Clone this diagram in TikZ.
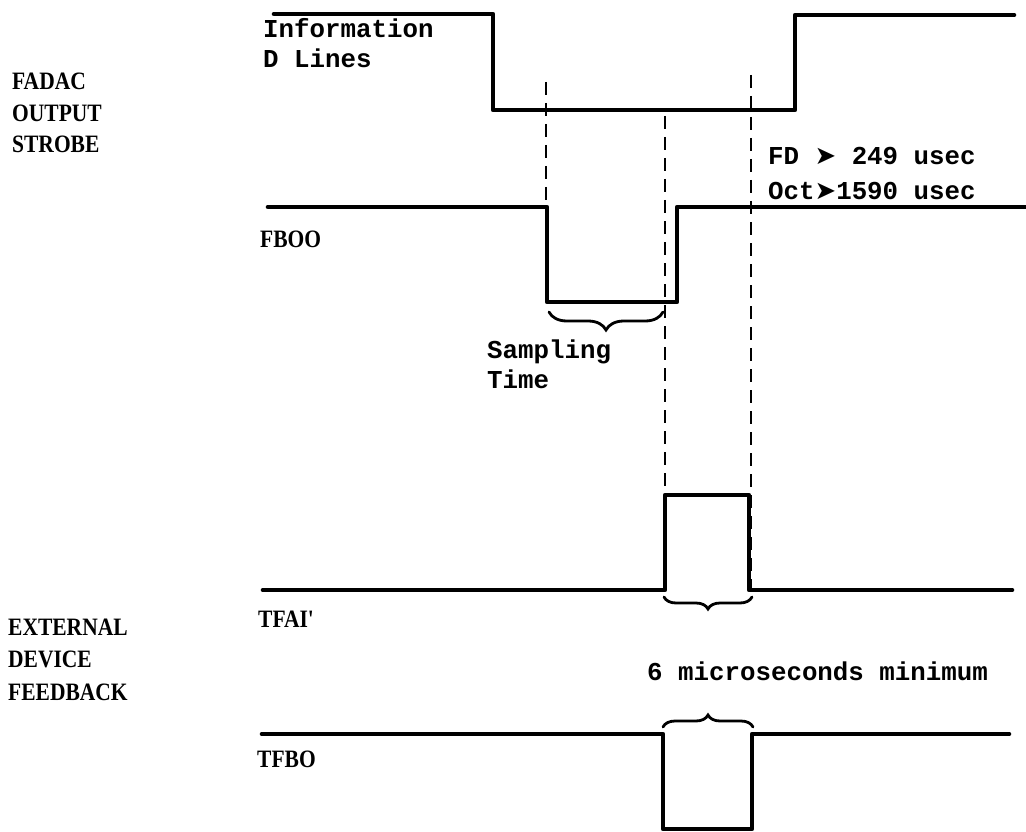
\documentclass[tikz,border=0pt]{standalone}
\usepackage{fontspec}
\setmainfont{Liberation Serif}
\setmonofont{Liberation Mono}
\newfontfamily\capfont{Liberation Serif}[FakeStretch=0.86]
\newfontfamily\symfont{DejaVu Sans}
\usetikzlibrary{decorations.pathreplacing}
\begin{document}
\begin{tikzpicture}[x=1pt,y=-1pt,
  sig/.style={line width=4.6pt, line join=round, line cap=round},
  guide/.style={line width=2.8pt, dash pattern=on 13pt off 8pt},
  brc/.style={line width=2.8pt, line cap=round, decorate, decoration={brace, amplitude=#1}},
  caplbl/.style={font=\fontsize{25}{32}\capfont\bfseries, anchor=base west, inner sep=0pt},
  mono/.style={font=\fontsize{25.8}{30}\selectfont\ttfamily\bfseries, anchor=base west, inner sep=0pt}]
\useasboundingbox[fill=white] (0,0) rectangle (1026,832);

% ---- dashed guides
\draw[guide] (546,82) -- (546,207);
\draw[guide] (665,116) -- (665,590);
\draw[guide] (751,75) -- (751,590);

% ---- signals
\draw[sig] (274,14) -- (493,14) -- (493,110) -- (795,110) -- (795,15) -- (1014,15);
\draw[sig] (268,207) -- (547,207) -- (547,302) -- (677,302) -- (677,207) -- (1026,207);
\draw[sig] (263,590) -- (665,590) -- (665,495) -- (749,495) -- (749,590) -- (1012,590);
\draw[sig] (262,734) -- (663,734) -- (663,829) -- (752,829) -- (752,734) -- (1009,734);

% ---- braces
\draw[brc=18pt, decoration={mirror}] (549,312) -- (663,312);
\draw[brc=12pt, decoration={mirror}] (664,597) -- (752,597);
\draw[brc=12pt] (663,727) -- (753,727);

% ---- left labels
\node[caplbl] (l1) at (12,90) {FADAC};
\node[caplbl] (l2) at (12,122) {OUTPUT};
\node[caplbl] (l3) at (12,153) {STROBE};
\node[caplbl] (l4) at (8,635) {EXTERNAL};
\node[caplbl] (l5) at (8,667) {DEVICE};
\node[caplbl] (l6) at (8,700) {FEEDBACK};

% ---- signal names
\node[caplbl] (fboo) at (260,247) {FBOO};
\node[caplbl] (tfai) at (258,627) {TFAI'};
\node[caplbl] (tfbo) at (257,767) {TFBO};

% ---- annotations
\node[mono] (i1) at (263,38) {Information};
\node[mono] (i2) at (263,68) {D Lines};
\node[mono] (s1) at (487,358) {Sampling};
\node[mono] (s2) at (487,388) {Time};
\node[mono] (fd) at (768,165) {FD {\symfont\bfseries ➤} 249 usec};
\node[mono] (oct) at (768,200) {Oct{\symfont\bfseries ➤}1590 usec};
\node[mono] (six) at (647,680) {6 microseconds minimum};
\end{tikzpicture}
\end{document}
